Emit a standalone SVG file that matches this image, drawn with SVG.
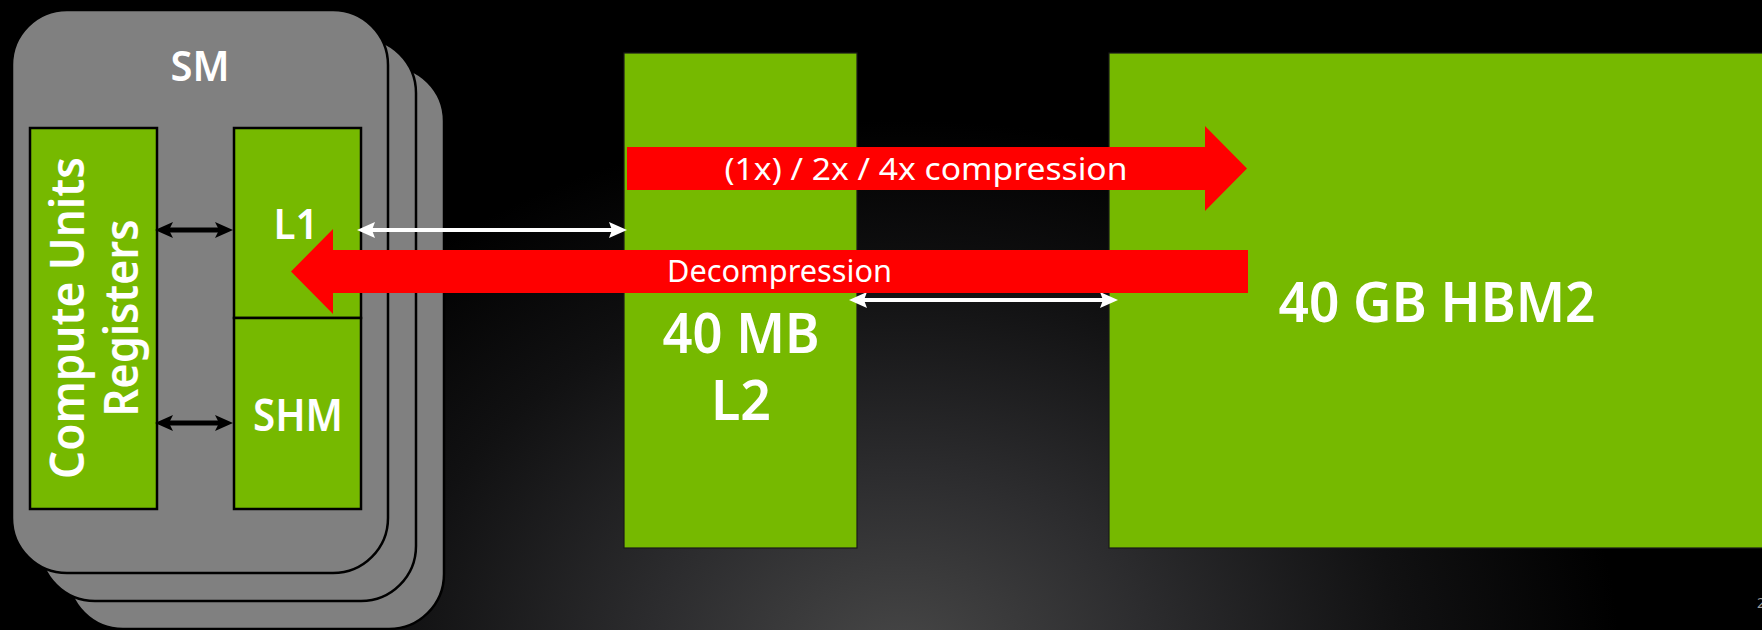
<svg xmlns="http://www.w3.org/2000/svg" width="1762" height="630" viewBox="0 0 1762 630">
  <defs>
    <radialGradient id="bg" gradientUnits="userSpaceOnUse" cx="900" cy="660" r="720" gradientTransform="translate(900 660) scale(1 0.75) translate(-900 -660)">
      <stop offset="0" stop-color="#474747"/>
      <stop offset="0.35" stop-color="#2c2c2e"/>
      <stop offset="0.7" stop-color="#111112"/>
      <stop offset="1" stop-color="#000000"/>
    </radialGradient>
    <marker id="hb" viewBox="0 0 18 16" refX="8" refY="8" markerWidth="18" markerHeight="16" markerUnits="userSpaceOnUse" orient="auto-start-reverse">
      <path d="M0,0 L18,8 L0,16 L4,8 Z" fill="#000"/>
    </marker>
    <marker id="hw" viewBox="0 0 18 16" refX="8" refY="8" markerWidth="18" markerHeight="16" markerUnits="userSpaceOnUse" orient="auto-start-reverse">
      <path d="M0,0 L18,8 L0,16 L3,8 Z" fill="#fff"/>
    </marker>
  </defs>
  <style>
    .card { fill: #808080; stroke: #000; stroke-width: 2.5; }
    .box { fill: #76b900; stroke: #000; stroke-width: 2.5; }
    .mem { fill: #76b900; stroke: #1a1a1a; stroke-width: 1.2; }
    .lbl { font-family: "Noto Sans", "Open Sans", sans-serif; fill: #fff; font-weight: 600; }
    .red { fill: #ff0000; }
    .rtxt { font-family: "Noto Sans", "Open Sans", sans-serif; fill: #fff; font-size: 30px; }
    .blk { stroke: #000; stroke-width: 5; fill: none; marker-start: url(#hb); marker-end: url(#hb); }
    .wht { stroke: #fff; stroke-width: 4; fill: none; marker-start: url(#hw); marker-end: url(#hw); }
  </style>
  <rect x="0" y="0" width="1762" height="630" fill="url(#bg)"/>

  <g id="sm-stack">
    <rect class="card" x="68" y="66" width="376" height="563" rx="55" ry="55"/>
    <rect class="card" x="40" y="38" width="376" height="563" rx="55" ry="55"/>
    <rect class="card" x="12" y="10" width="376" height="563" rx="55" ry="55"/>
    <text class="lbl" x="200" y="81" font-size="42" text-anchor="middle" textLength="59" lengthAdjust="spacingAndGlyphs">SM</text>
  </g>

  <g id="compute">
    <rect class="box" x="30" y="128" width="127" height="381"/>
    <g transform="translate(0 318) rotate(-90)">
      <text class="lbl" x="0" y="84" font-size="46" font-weight="500" text-anchor="middle" textLength="322" lengthAdjust="spacingAndGlyphs">Compute Units</text>
      <text class="lbl" x="0" y="138" font-size="46" font-weight="500" text-anchor="middle" textLength="197" lengthAdjust="spacingAndGlyphs">Registers</text>
    </g>
  </g>

  <g id="l1">
    <rect class="box" x="234" y="128" width="127" height="190"/>
    <text class="lbl" x="296" y="239" font-size="42" text-anchor="middle" textLength="45" lengthAdjust="spacingAndGlyphs">L1</text>
  </g>

  <g id="shm">
    <rect class="box" x="234" y="318" width="127" height="191"/>
    <text class="lbl" x="298" y="431" font-size="45" text-anchor="middle" textLength="90" lengthAdjust="spacingAndGlyphs">SHM</text>
  </g>

  <g id="l2">
    <rect class="mem" x="624" y="53" width="233" height="495"/>
    <text class="lbl" font-size="56" text-anchor="middle"><tspan x="741" y="353" textLength="157" lengthAdjust="spacingAndGlyphs">40 MB</tspan><tspan x="741" y="420" textLength="60" lengthAdjust="spacingAndGlyphs">L2</tspan></text>
  </g>

  <g id="hbm">
    <rect class="mem" x="1109" y="53" width="670" height="495"/>
    <text class="lbl" x="1437" y="322" font-size="56" font-weight="500" text-anchor="middle" textLength="317" lengthAdjust="spacingAndGlyphs">40 GB HBM2</text>
  </g>

  <g id="connectors">
    <line class="blk" x1="165" y1="230" x2="223" y2="230"/>
    <line class="blk" x1="165" y1="423" x2="223" y2="423"/>
    <line class="wht" x1="367" y1="230" x2="617" y2="230"/>
    <line class="wht" x1="859" y1="300" x2="1108" y2="300"/>
    <g id="compression">
      <path class="red" d="M627,147 L1205,147 L1205,126 L1247,168.5 L1205,211 L1205,190 L627,190 Z"/>
      <text class="rtxt" x="926" y="180" text-anchor="middle" textLength="403" lengthAdjust="spacingAndGlyphs">(1x) / 2x / 4x compression</text>
    </g>
    <g id="decompression">
      <path class="red" d="M1248,250 L333,250 L333,229 L291,271.5 L333,314 L333,293 L1248,293 Z"/>
      <text class="rtxt" x="667" y="282" textLength="225" lengthAdjust="spacingAndGlyphs">Decompression</text>
    </g>
  </g>

  <text x="1757" y="608" font-family="Noto Sans, sans-serif" font-size="14" fill="#9a9a9a">2</text>
</svg>
